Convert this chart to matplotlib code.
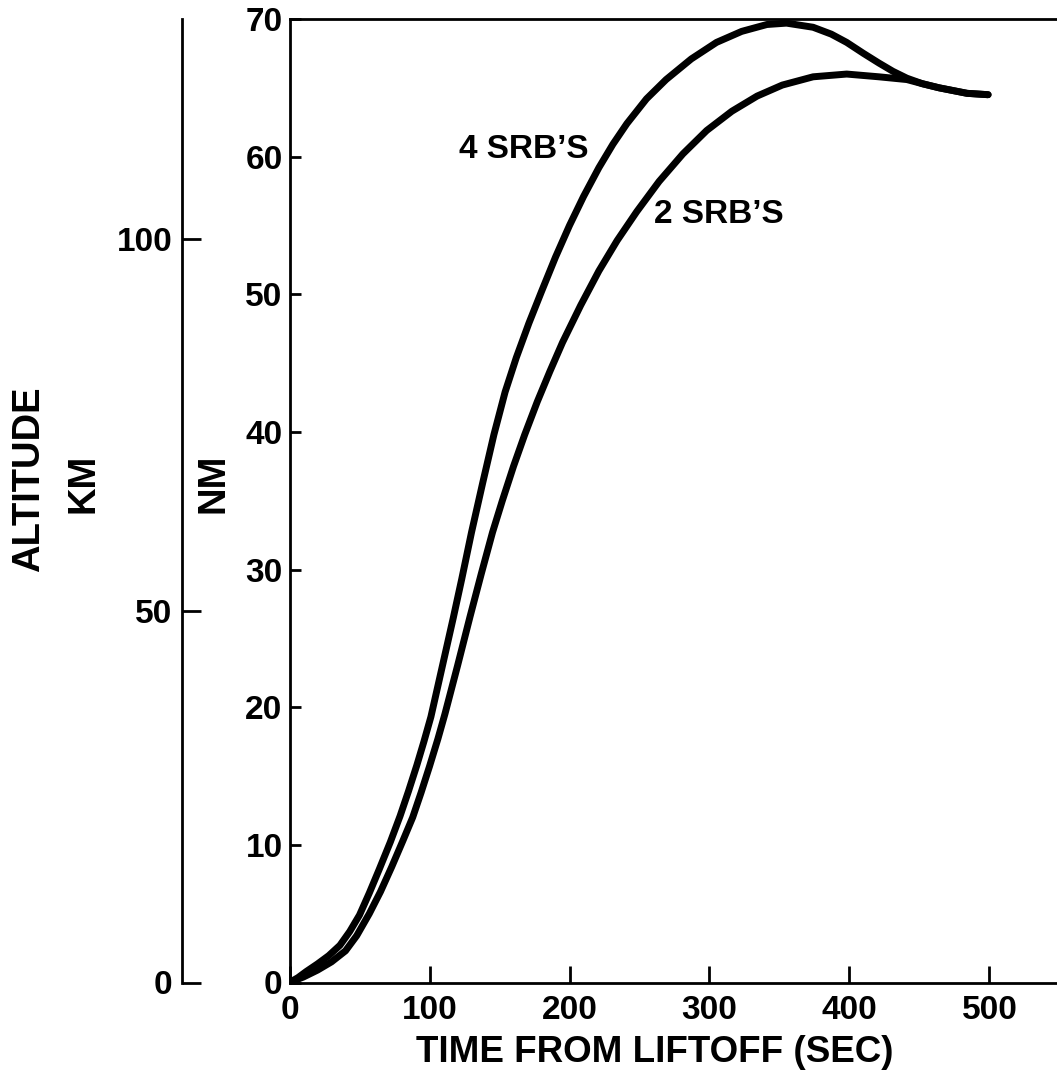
import matplotlib
matplotlib.use("Agg")
import matplotlib.pyplot as plt

plt.rcParams['font.family'] = ['Liberation Sans', 'DejaVu Sans']
plt.rcParams['font.weight'] = 'bold'

# altitude (NM) vs time from liftoff (sec)
t_4srb = [0, 6, 12, 20, 28, 36, 43, 50, 57, 64, 72, 79, 85, 91, 96, 101,
          109, 117, 123, 130, 138, 146, 154, 162, 171, 180, 190, 200, 210,
          221, 231, 241, 255, 269, 287, 305, 323, 341, 355, 374, 387, 398,
          410, 421, 431, 441, 452, 464, 484, 499]
nm_4srb = [0, 0.35, 0.8, 1.35, 1.95, 2.7, 3.7, 4.9, 6.5, 8.2, 10.2, 12.1,
           13.9, 15.8, 17.5, 19.3, 22.9, 26.5, 29.3, 32.7, 36.3, 39.8, 42.9,
           45.4, 47.9, 50.2, 52.7, 55.0, 57.1, 59.2, 60.9, 62.4, 64.2, 65.6,
           67.1, 68.3, 69.1, 69.6, 69.7, 69.4, 68.9, 68.3, 67.5, 66.8, 66.2,
           65.7, 65.3, 65.0, 64.6, 64.5]

t_2srb = [0, 10, 20, 30, 40, 48, 57, 65, 73, 81, 88, 94, 100, 106, 111,
          120, 129, 137, 145, 152, 160, 168, 177, 186, 195, 208, 221, 234,
          248, 264, 281, 298, 316, 334, 352, 374, 398, 421, 441, 452, 464,
          484, 499]
nm_2srb = [0, 0.4, 0.9, 1.5, 2.3, 3.4, 5.0, 6.6, 8.4, 10.3, 12.0, 13.8,
           15.7, 17.7, 19.5, 23.0, 26.6, 29.7, 32.7, 35.0, 37.5, 39.8, 42.2,
           44.4, 46.5, 49.2, 51.7, 53.9, 56.0, 58.2, 60.2, 61.9, 63.3, 64.4,
           65.2, 65.8, 66.0, 65.8, 65.6, 65.3, 65.0, 64.6, 64.5]

nm_ticks = [0, 10, 20, 30, 40, 50, 60, 70]
km_ticks = [0, 50, 100]
time_ticks = [0, 100, 200, 300, 400, 500]
KM_PER_NM = 1.852

fig = plt.figure(figsize=(10.57, 10.73), dpi=100)
ax = fig.add_axes([289.5 / 1057, 90.5 / 1073, (1057 - 289.5) / 1057, 963.5 / 1073])

ax.plot(t_4srb, nm_4srb, color='black', lw=5, solid_capstyle='round', solid_joinstyle='round')
ax.plot(t_2srb, nm_2srb, color='black', lw=5, solid_capstyle='round', solid_joinstyle='round')

ax.set_xlim(0, (1057 - 289.5) / 1.4)
ax.set_ylim(0, 70)
ax.set_xticks(time_ticks)
ax.set_yticks(nm_ticks)
ax.spines['right'].set_visible(False)
for s in ['left', 'bottom', 'top']:
    ax.spines[s].set_linewidth(2)
ax.tick_params(axis='x', direction='in', length=12, width=2, pad=9, labelsize=24)
ax.tick_params(axis='y', direction='in', length=8, width=2, pad=5, labelsize=24)
for lab in ax.get_xticklabels() + ax.get_yticklabels():
    lab.set_fontweight('bold')
ax.set_xlabel('TIME FROM LIFTOFF (SEC)', fontsize=26.5, fontweight='bold')
ax.xaxis.set_label_coords((655 - 289.5) / 767.5, -0.055)

ax.text(167, 60.5, '4 SRB’S', fontsize=24, fontweight='bold', ha='center', va='center')
ax.text(307, 55.8, '2 SRB’S', fontsize=24, fontweight='bold', ha='center', va='center')

# kilometre scale on a second left axis
ax2 = ax.twinx()
ax2.set_ylim(0, 70 * KM_PER_NM)
ax2.set_yticks(km_ticks)
ax2.yaxis.tick_left()
for s in ['right', 'top', 'bottom']:
    ax2.spines[s].set_visible(False)
ax2.spines['left'].set_visible(True)
ax2.spines['left'].set_position(('axes', (182 - 289.5) / (1057 - 289.5)))
ax2.spines['left'].set_linewidth(2)
ax2.tick_params(axis='y', direction='in', length=14, width=2, pad=7, labelsize=24)
for lab in ax2.get_yticklabels():
    lab.set_fontweight('bold')

fig.text(29 / 1057, 1 - 479 / 1073, 'ALTITUDE', rotation=90, fontsize=27.5,
         fontweight='bold', ha='center', va='center')
fig.text(83 / 1057, 1 - 483 / 1073, 'KM', rotation=90, fontsize=27.5,
         fontweight='bold', ha='center', va='center')
fig.text(213 / 1057, 1 - 483 / 1073, 'NM', rotation=90, fontsize=27.5,
         fontweight='bold', ha='center', va='center')

fig.savefig('out.png', dpi=100)
